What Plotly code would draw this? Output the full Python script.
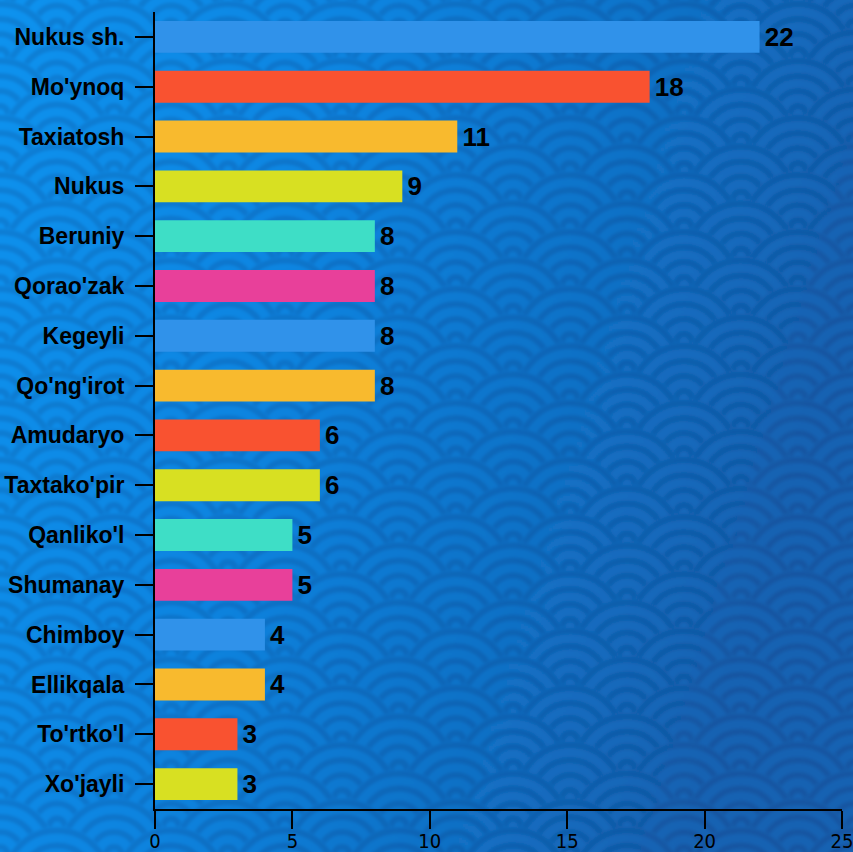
import base64
import plotly.graph_objects as go

districts = ["Nukus sh.", "Mo'ynoq", "Taxiatosh", "Nukus", "Beruniy", "Qorao'zak",
             "Kegeyli", "Qo'ng'irot", "Amudaryo", "Taxtako'pir", "Qanliko'l",
             "Shumanay", "Chimboy", "Ellikqala", "To'rtko'l", "Xo'jayli"]
values = [22, 18, 11, 9, 8, 8, 8, 8, 6, 6, 5, 5, 4, 4, 3, 3]
bar_colors = ["#3092EA", "#F95230", "#F8BA2E", "#D8E022", "#3EDEC6", "#E8409A",
              "#3092EA", "#F8BA2E", "#F95230", "#D8E022", "#3EDEC6", "#E8409A",
              "#3092EA", "#F8BA2E", "#F95230", "#D8E022"]
x_ticks = [0, 5, 10, 15, 20, 25]

W, H = 853, 852
L, R_, T, B = 155, 11, 12, 43
PW, PH = W - L - R_, H - T - B


def make_background():
    r = 57
    p = [f'<svg xmlns="http://www.w3.org/2000/svg" width="{W}" height="{H}" viewBox="0 0 {W} {H}">']
    p.append('<defs><linearGradient id="g" gradientUnits="userSpaceOnUse" x1="0" y1="0" x2="853" y2="250">'
             '<stop offset="0" stop-color="#0A92EE"/><stop offset="0.4" stop-color="#0A84E0"/>'
             '<stop offset="1" stop-color="#1662B2"/></linearGradient>'
             '<filter id="b" x="0" y="0" width="1" height="1"><feGaussianBlur stdDeviation="1.8"/></filter></defs>')
    p.append(f'<rect width="{W}" height="{H}" fill="url(#g)"/>')
    p.append('<g filter="url(#b)">')
    rings = [r - 4, r - 19, r - 34, r - 49]
    j = 0
    y = -r
    while y < H + r:
        off = (j % 2) * r
        x = -2 * r + off
        while x < W + 2 * r:
            p.append(f'<circle cx="{x}" cy="{y:.1f}" r="{r}" fill="url(#g)"/>')
            for rr in rings:
                p.append(f'<circle cx="{x}" cy="{y:.1f}" r="{rr}" fill="none" stroke="rgba(0,30,80,0.15)" stroke-width="6"/>')
            x += 2 * r
        j += 1
        y += r / 2
    p.append('</g></svg>')
    svg = "".join(p)
    return "data:image/svg+xml;base64," + base64.b64encode(svg.encode()).decode()


fig = go.Figure(go.Bar(
    x=values, y=districts, orientation="h",
    marker=dict(color=bar_colors, line=dict(width=0)),
    text=[str(v) for v in values], textposition="outside",
    texttemplate="\u200a%{text}",
    textfont=dict(family="Liberation Sans, Arial, sans-serif", size=26, color="black", weight="bold"),
    cliponaxis=False,
    hoverinfo="skip",
))

fig.update_layout(
    width=W, height=H,
    margin=dict(l=L, r=R_, t=T, b=B, pad=0, autoexpand=False),
    paper_bgcolor="#0A88E4",
    plot_bgcolor="rgba(0,0,0,0)",
    bargap=0.36,
    showlegend=False,
    images=[dict(source=make_background(), xref="paper", yref="paper",
                 x=-L / PW, y=1 + T / PH, sizex=W / PW, sizey=H / PH,
                 xanchor="left", yanchor="top", sizing="stretch", layer="below")],
    xaxis=dict(range=[0, 25], tickvals=x_ticks, showgrid=False, zeroline=False, automargin=False,
               showline=True, linecolor="black", linewidth=2,
               ticks="outside", ticklen=18, tickwidth=2, tickcolor="black",
               ticklabelstandoff=-5, ticklabeloverflow="allow",
               tickfont=dict(family="Liberation Sans Narrow, DejaVu Sans Condensed, Roboto Condensed, Roboto, sans-serif",
                             size=20, color="black")),
    yaxis=dict(categoryorder="array", categoryarray=districts, autorange="reversed", automargin=False,
               showgrid=False, zeroline=False, showline=True, linecolor="black", linewidth=2,
               ticks="outside", ticklen=18, tickwidth=2, tickcolor="black",
               ticklabelstandoff=6,
               tickfont=dict(family="Liberation Sans, Arial, sans-serif", size=23, color="black", weight="bold")),
)

fig.write_html("out.html", config={"displayModeBar": False},
               post_script="document.body.style.margin='0';document.body.style.overflow='hidden';")
